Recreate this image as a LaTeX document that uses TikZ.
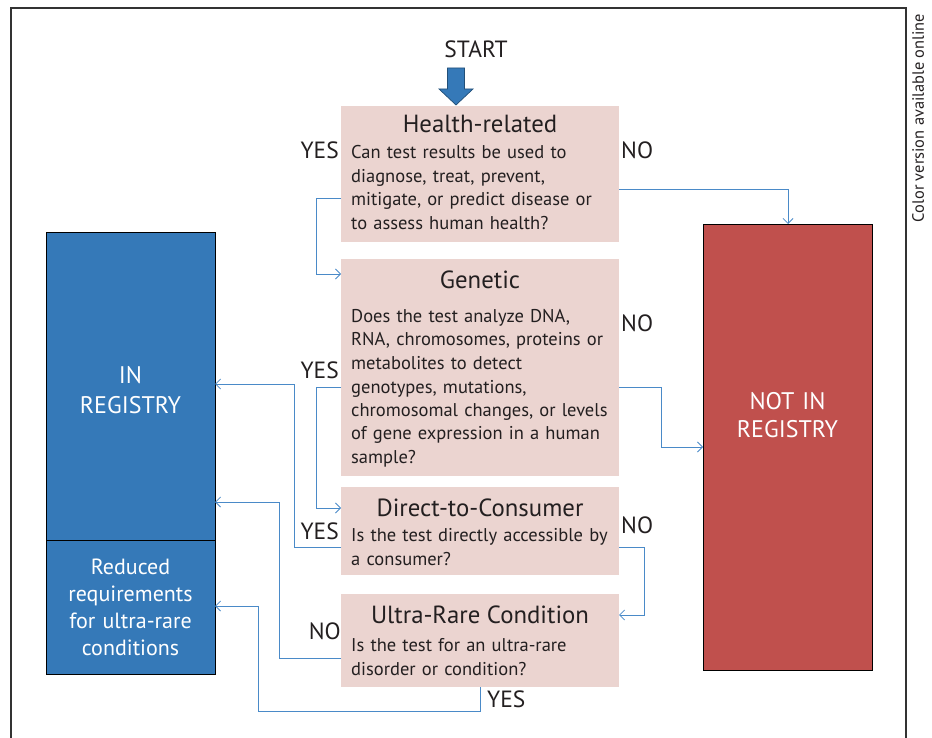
\documentclass[tikz,border=0pt]{standalone}
\usepackage{fontspec}
\setmainfont{PT Sans}
\usetikzlibrary{arrows.meta}
\definecolor{qpink}{HTML}{EBD4D0}
\definecolor{regblue}{HTML}{3579B8}
\definecolor{regred}{HTML}{C0504D}
\definecolor{linkblue}{HTML}{4A8AC8}
\definecolor{txt}{HTML}{231F20}
\begin{document}
\begin{tikzpicture}[x=1pt,y=-1pt,
  qbox/.style={fill=qpink,draw=none,inner sep=0pt,outer sep=0pt},
  regbox/.style={draw=black,line width=0.9pt,inner sep=0pt,outer sep=0pt},
  ttl/.style={font=\fontsize{24.8}{28}\selectfont,text=txt,anchor=base,inner sep=0pt},
  body/.style={font=\fontsize{18.5}{23.5}\selectfont,text=txt,anchor=base west,inner sep=0pt,text width=275pt,align=left},
  ans/.style={font=\fontsize{23.5}{26}\selectfont,text=txt,inner sep=0pt},
  regtxt/.style={text=white,text width=169pt,align=center,inner sep=0pt,anchor=base},
  link/.style={draw=linkblue,line width=0.9pt,-{Straight Barb[length=5pt,width=10pt,line width=0.8pt]}}
]
\useasboundingbox (0,0) rectangle (932,738);
% frame
\draw[line width=1.1pt,draw=black!80] (11,740) -- (11,8) -- (906,8) -- (906,740);
\node[rotate=90,font=\fontsize{16.4}{18}\selectfont,text=txt,inner sep=0pt] (cv) at (918,118) {Color version available online};

% question boxes
\node[qbox,minimum width=278pt,minimum height=136pt] (hr) at (480,174) {};
\node[qbox,minimum width=278pt,minimum height=217pt] (gen) at (480,367.5) {};
\node[qbox,minimum width=278pt,minimum height=88pt] (dtc) at (480,531) {};
\node[qbox,minimum width=278pt,minimum height=93pt] (ur) at (480,640.5) {};

% registry boxes
\node[regbox,fill=regblue,minimum width=169pt,minimum height=308pt] (in) at (130.5,386) {};
\node[regbox,fill=regblue,minimum width=169pt,minimum height=134pt] (red) at (130.5,607) {};
\node[regbox,fill=regred,minimum width=169pt,minimum height=446pt] (not) at (787.5,447) {};

% START
\node[font=\fontsize{23.5}{26}\selectfont,text=txt,anchor=base,inner sep=0pt] (start) at (476,58) {START};
\coordinate (tip) at (456,105);
\filldraw[fill=regblue,draw=regblue!65!black,line width=0.7pt]
  (tip) -- (439,89) -- (447.5,89) -- (447.5,68) -- (464.5,68) -- (464.5,89) -- (473,89) -- cycle;

% texts in question boxes
\node[ttl] (hrt) at (480,133) {Health-related};
\node[body] (hrb) at (351,159) {Can test results be used to\\diagnose, treat, prevent,\\mitigate, or predict disease or\\to assess human health?};
\node[ttl] (gent) at (480,288) {Genetic};
\node[body] (genb) at (351,322.5) {Does the test analyze DNA,\\RNA, chromosomes, proteins or\\metabolites to detect\\genotypes, mutations,\\chromosomal changes, or levels\\of gene expression in a human\\sample?};
\node[ttl] (dtct) at (480,516) {Direct-to-Consumer};
\node[body] (dtcb) at (351,541.5) {Is the test directly accessible by\\a consumer?};
\node[ttl] (urt) at (480,623) {Ultra-Rare Condition};
\node[body] (urb) at (351,651.5) {Is the test for an ultra-rare\\disorder or condition?};

% texts in registry boxes
\node[regtxt,font=\fontsize{24}{30.5}\selectfont] (int) at (130.5,383) {IN\\REGISTRY};
\node[regtxt,font=\fontsize{22}{27.2}\selectfont] (redt) at (130.5,574) {Reduced\\requirements\\for ultra-rare\\conditions};
\node[regtxt,font=\fontsize{24}{28.5}\selectfont] (nott) at (787.5,409) {NOT IN\\REGISTRY};

% answers
\node[ans,anchor=base east] (y1) at (339,159) {YES};
\node[ans,anchor=base west] (n1) at (621,159) {NO};
\node[ans,anchor=base east] (y2) at (339,378) {YES};
\node[ans,anchor=base west] (n2) at (621,331.5) {NO};
\node[ans,anchor=base east] (y3) at (339,539) {YES};
\node[ans,anchor=base west] (n3) at (621,533) {NO};
\node[ans,anchor=base east] (n4) at (341,639) {NO};
\node[ans,anchor=base west] (y4) at (487,707) {YES};

% connectors
\draw[link] (hr.west |- 0,198) -| (316,274) -- (gen.west |- 0,274);
\draw[link] (hr.east |- 0,189) -| (not.north -| 788,0);
\draw[link] (gen.west |- 0,387) -| (316,508) -- (dtc.west |- 0,508);
\draw[link] (gen.east |- 0,387) -| (661,447) -- (not.west |- 0,447);
\draw[link] (dtc.west |- 0,547) -| (294,384) -- (in.east |- 0,384);
\draw[link] (dtc.east |- 0,547) -| (644,615) -- (ur.east |- 0,615);
\draw[link] (ur.west |- 0,658) -| (279,502) -- (in.east |- 0,502);
\draw[link] (ur.south -| 480,0) -- (480,711) -| (258,606) -- (red.east |- 0,606);
\end{tikzpicture}
\end{document}
